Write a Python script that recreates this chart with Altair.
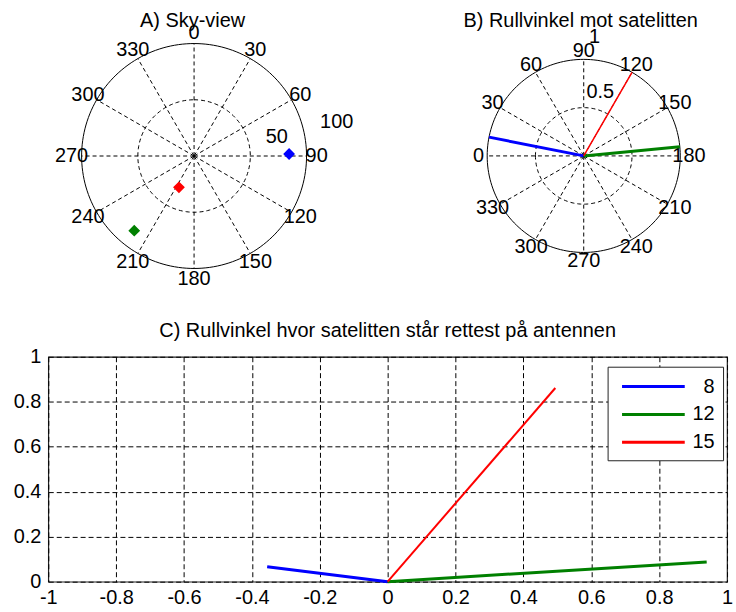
import altair as alt
import pandas as pd

FONT = "Liberation Sans"

# Satellites and their colours
sat_ids = ["8", "12", "15"]
sat_colors = ["#0000ff", "#008000", "#ff0000"]

# A) Sky-view: azimuth (deg, clockwise from north) and radial distance
sky_azimuth = [88.8, 218.7, 205.8]
sky_radius = [84.5, 85.1, 30.9]

# B) Roll angle toward each satellite (deg) and vector length
roll_angle = [11.2, 174.5, 120.0]
roll_length = [1.0, 1.0, 1.0]
roll_width = [3, 3, 1.5]

# C) Roll-angle vectors: both ends of each line
c_x_8 = [-0.355, 0.0]
c_y_8 = [0.066, 0.0]
c_x_12 = [0.0, 0.94]
c_y_12 = [0.0, 0.088]
c_x_15 = [0.0, 0.494]
c_y_15 = [0.0, 0.861]
c_width = [3, 3, 2]

# Polar grid and axis ticks
spoke_angles = list(range(0, 360, 30))
sky_rings = [50, 100]
sky_ring_labels = ["50", "100"]
roll_rings = [0.5, 1.0]
roll_ring_labels = ["0.5", "1"]
c_x_ticks = [-1, -0.8, -0.6, -0.4, -0.2, 0, 0.2, 0.4, 0.6, 0.8, 1]
c_y_ticks = [0, 0.2, 0.4, 0.6, 0.8, 1]

DASH = [4, 3]


def color_scale():
    return alt.Scale(domain=sat_ids, range=sat_colors)


def polar_panel(width, height, cx, cy, R, rmax, rings, ring_labels,
                xexpr, yexpr, rlabel_expr, rlabel_deg, data_layer,
                title_text, title_x):
    xs = alt.Scale(domain=[-cx / R * rmax, (width - cx) / R * rmax], nice=False, zero=False)
    ys = alt.Scale(domain=[-(height - cy) / R * rmax, cy / R * rmax], nice=False, zero=False)
    X = lambda f: alt.X(f, scale=xs, axis=None)
    Y = lambda f: alt.Y(f, scale=ys, axis=None)

    ring_df = pd.DataFrame([{"r": r, "deg": d} for r in rings for d in range(0, 361, 2)])
    rings_base = alt.Chart(ring_df).transform_calculate(x=xexpr, y=yexpr)
    outer = rings_base.transform_filter(f"datum.r == {rmax}").mark_line(
        color="black", strokeWidth=1).encode(x=X("x:Q"), y=Y("y:Q"), order="deg:Q", detail="r:N")
    inner = rings_base.transform_filter(f"datum.r < {rmax}").mark_line(
        color="black", strokeWidth=1, strokeDash=DASH).encode(
        x=X("x:Q"), y=Y("y:Q"), order="deg:Q", detail="r:N")

    spoke_df = pd.DataFrame({"deg": spoke_angles, "r": [rmax] * len(spoke_angles)})
    spokes = alt.Chart(spoke_df).transform_calculate(
        x=xexpr, y=yexpr, x0="0", y0="0").mark_rule(
        color="black", strokeWidth=1, strokeDash=DASH).encode(
        x=X("x0:Q"), y=Y("y0:Q"), x2="x:Q", y2="y:Q")

    alabel_df = pd.DataFrame({"deg": spoke_angles, "label": [str(a) for a in spoke_angles]})
    alabels = alt.Chart(alabel_df).transform_calculate(r=f"{rmax} * 1.09").transform_calculate(
        x=xexpr, y=yexpr).mark_text(fontSize=20, color="black", font=FONT).encode(
        x=X("x:Q"), y=Y("y:Q"), text="label:N")

    rlabel_df = pd.DataFrame({"ring": rings, "label": ring_labels})
    rlabels = alt.Chart(rlabel_df).transform_calculate(
        r=rlabel_expr, deg=str(rlabel_deg)).transform_calculate(x=xexpr, y=yexpr).mark_text(
        fontSize=20, color="black", font=FONT, align="left").encode(
        x=X("x:Q"), y=Y("y:Q"), text="label:N")

    title = alt.Chart(pd.DataFrame({"t": [title_text]})).mark_text(
        fontSize=20, color="black", font=FONT, baseline="alphabetic").encode(
        x=alt.value(title_x), y=alt.value(25), text="t:N")

    return alt.layer(inner, outer, spokes, alabels, rlabels, data_layer(X, Y), title).properties(
        width=width, height=height, view=alt.ViewBackground(stroke="transparent"))


SKY_X = "datum.r * sin(datum.deg * PI / 180)"
SKY_Y = "datum.r * cos(datum.deg * PI / 180)"
ROLL_X = "-datum.r * cos(datum.deg * PI / 180)"
ROLL_Y = "datum.r * sin(datum.deg * PI / 180)"


def sky_points(X, Y):
    df = pd.DataFrame({"sat": sat_ids, "deg": sky_azimuth, "r": sky_radius})
    return alt.Chart(df).transform_calculate(x=SKY_X, y=SKY_Y).mark_point(
        shape="diamond", filled=True, size=95, strokeWidth=1.5, opacity=1).encode(
        x=X("x:Q"), y=Y("y:Q"),
        color=alt.Color("sat:N", scale=color_scale(), legend=None),
        stroke=alt.Stroke("sat:N", scale=color_scale(), legend=None))


def roll_lines(X, Y):
    rows = []
    for s, a, L, w in zip(sat_ids, roll_angle, roll_length, roll_width):
        rows.append({"sat": s, "deg": a, "r": 0.0, "w": w})
        rows.append({"sat": s, "deg": a, "r": L, "w": w})
    df = pd.DataFrame(rows)
    return alt.Chart(df).transform_calculate(x=ROLL_X, y=ROLL_Y).mark_line().encode(
        x=X("x:Q"), y=Y("y:Q"), order="r:Q",
        color=alt.Color("sat:N", scale=color_scale(), legend=None),
        strokeWidth=alt.StrokeWidth("w:Q", scale=None, legend=None))


# Left edge of the shared plot-area column (panel C's frame)
COL_X = 48
LEFT_PAD = 12.5
TOP_H = 300

sky = polar_panel(368 - COL_X, TOP_H, 194.5 - COL_X, 154.3, 113, 100, sky_rings, sky_ring_labels,
                  SKY_X, SKY_Y, "datum.ring + 16", 75, sky_points,
                  "A) Sky-view", 193 - COL_X)
roll = polar_panel(368, TOP_H, 584 - 368, 154.2, 97, 1.0, roll_rings, roll_ring_labels,
                   ROLL_X, ROLL_Y, "datum.ring * 1.13 + 0.1", 92.5, roll_lines,
                   "B) Rullvinkel mot satelitten", 581 - 368)

# C) cartesian view of the roll-angle vectors
c_df = pd.DataFrame({
    "sat": [sat_ids[0]] * 2 + [sat_ids[1]] * 2 + [sat_ids[2]] * 2,
    "x": c_x_8 + c_x_12 + c_x_15,
    "y": c_y_8 + c_y_12 + c_y_15,
    "w": [c_width[0]] * 2 + [c_width[1]] * 2 + [c_width[2]] * 2,
    "step": [0, 1] * 3,
})

axis_common = dict(title=None, grid=True, gridDash=[5, 3], gridColor="black", gridOpacity=1,
                   gridWidth=1, ticks=False, tickSize=0, domain=False, labelFontSize=20,
                   labelColor="black", labelFont=FONT, labelExpr="'' + datum.value",
                   labelOverlap=False)

c_chart = alt.Chart(c_df).mark_line().encode(
    x=alt.X("x:Q", scale=alt.Scale(domain=[-1, 1], nice=False, zero=False),
            axis=alt.Axis(values=c_x_ticks, labelPadding=6, labelFlush=False, **axis_common)),
    y=alt.Y("y:Q", scale=alt.Scale(domain=[0, 1], nice=False, zero=False),
            axis=alt.Axis(values=c_y_ticks, labelPadding=7.5, **axis_common)),
    order="step:Q",
    color=alt.Color("sat:N", scale=color_scale(), sort=sat_ids, legend=alt.Legend(
        title=None, orient="none", legendX=562, legendY=10,
        symbolType="M-3,0H3", symbolSize=441, symbolStrokeWidth=3,
        symbolOffset=26, labelOffset=49.5, labelAlign="right", labelFontSize=20,
        labelColor="black", labelFont=FONT, padding=8, rowPadding=6, strokeColor="#222",
        fillColor="white", cornerRadius=0)),
    strokeWidth=alt.StrokeWidth("w:Q", scale=None, legend=None),
).properties(
    width=682, height=226,
    title=alt.TitleParams("C) Rullvinkel hvor satelitten står rettest på antennen",
                          fontSize=20, fontWeight="normal", color="black", font=FONT,
                          anchor="middle", offset=6),
)

top_row = alt.hconcat(sky, roll, spacing=0).resolve_scale(color="independent", stroke="independent")

chart = alt.vconcat(
    top_row, c_chart, spacing=18
).resolve_scale(
    color="independent", stroke="independent"
).resolve_legend(
    color="independent"
).properties(
    padding={"left": LEFT_PAD, "top": 0, "right": 0, "bottom": 0}
).configure(font=FONT).configure_view(stroke="#222", strokeWidth=1.2)

chart.save("out.html", embed_options={"renderer": "svg", "actions": False})
